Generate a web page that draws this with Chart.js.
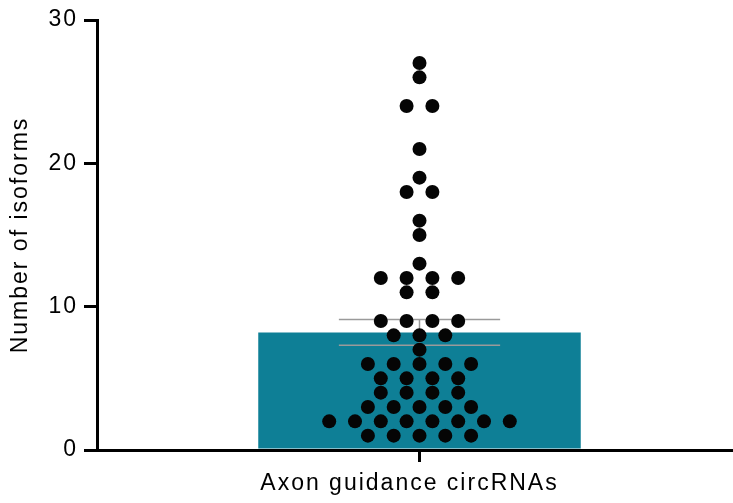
<!DOCTYPE html>
<html>
<head>
<meta charset="utf-8">
<script src="https://cdn.jsdelivr.net/npm/chart.js@4"></script>
<style>
    html, body { margin: 0; padding: 0; background: #fff; overflow: hidden; }
    #wrap { position: absolute; left: 0; top: 0; width: 742px; height: 503px; }
    #chart { width: 742px; height: 503px; display: block; }
</style>
</head>
<body>
<div id="wrap"><canvas id="chart" width="742" height="503"></canvas></div>
<script>
// Datos
const categories = ["Axon guidance circRNAs"];
const barMean = [8.2];
const barErrLow = [7.3];
const barErrHigh = [9.1];
// Número de isoformas por circRNA (un punto cada uno)
const isoformValues = [
    1, 1, 1, 1, 1,
    2, 2, 2, 2, 2, 2, 2, 2,
    3, 3, 3, 3, 3,
    4, 4, 4, 4,
    5, 5, 5, 5,
    6, 6, 6, 6, 6,
    7,
    8, 8, 8,
    9, 9, 9, 9,
    11, 11,
    12, 12, 12, 12,
    13, 15, 16,
    18, 18,
    19, 21,
    24, 24,
    26, 27
];
const yTicks = [0, 10, 20, 30];

// Agrupar valores iguales en filas centradas (estilo scatter dot plot)
const counts = {};
isoformValues.forEach(v => { counts[v] = (counts[v] || 0) + 1; });
const seen = {};
const dotPoints = isoformValues.map(v => {
    const i = seen[v] || 0;
    seen[v] = i + 1;
    return { x: i - (counts[v] - 1) / 2, y: v };
});

// Espaciado de letras como en el original
const spacingPlugin = {
    id: "letterSpacing",
    beforeUpdate(chart) { chart.ctx.letterSpacing = "2px"; },
    beforeLayout(chart) { chart.ctx.letterSpacing = "2px"; },
    beforeDraw(chart) { chart.ctx.letterSpacing = "2px"; }
};

// Barras de error (SEM) dibujadas encima de la barra
const errorBarPlugin = {
    id: "errorBars",
    afterDatasetDraw(chart, args) {
        if (args.meta.type !== "bar") return;
        const ctx = chart.ctx;
        const yScale = chart.scales.y;
        args.meta.data.forEach((bar, i) => {
            const half = bar.width / 4;
            const yHi = yScale.getPixelForValue(barErrHigh[i]);
            const yLo = yScale.getPixelForValue(barErrLow[i]);
            ctx.save();
            ctx.strokeStyle = "#9a9a9a";
            ctx.lineWidth = 1.5;
            ctx.beginPath();
            ctx.moveTo(bar.x - half, yHi); ctx.lineTo(bar.x + half, yHi);
            ctx.moveTo(bar.x - half, yLo); ctx.lineTo(bar.x + half, yLo);
            ctx.moveTo(bar.x, yHi); ctx.lineTo(bar.x, yLo);
            ctx.stroke();
            ctx.restore();
        });
    }
};

const font = { family: "'Liberation Sans', Arial, sans-serif", size: 23 };

new Chart(document.getElementById("chart"), {
    type: "bar",
    data: {
        labels: categories,
        datasets: [
            {
                type: "bar",
                data: barMean,
                backgroundColor: "#0e7f96",
                barPercentage: 0.5,
                categoryPercentage: 1,
                grouped: false,
                order: 2
            },
            {
                type: "scatter",
                data: dotPoints,
                xAxisID: "x2",
                pointRadius: 7,
                pointBackgroundColor: "#050505",
                pointBorderWidth: 0,
                clip: false,
                order: 1
            }
        ]
    },
    options: {
        responsive: false,
        animation: false,
        layout: { autoPadding: false, padding: { top: 20, right: 0, bottom: 0, left: 0 } },
        plugins: {
            legend: { display: false },
            tooltip: { enabled: false }
        },
        scales: {
            x: {
                position: "bottom",
                border: { display: true, color: "#000", width: 3 },
                grid: {
                    display: true, drawOnChartArea: false, offset: false,
                    color: "#000", lineWidth: 3, tickLength: 12
                },
                ticks: { color: "#000", font: font, padding: 8, labelOffset: -10 },
                afterFit(scale) { scale.height = 53; }
            },
            x2: {
                type: "linear",
                display: false,
                offset: false,
                bounds: "data",
                min: -12.5,
                max: 12.5
            },
            y: {
                min: 0,
                max: 30,
                afterBuildTicks(scale) { scale.ticks = yTicks.map(v => ({ value: v })); },
                border: { display: true, color: "#000", width: 3 },
                grid: {
                    display: true, drawOnChartArea: false,
                    color: "#000", lineWidth: 3, tickLength: 13
                },
                ticks: { color: "#000", font: font, padding: 6 },
                title: {
                    display: true,
                    text: "Number of isoforms",
                    color: "#000",
                    font: font,
                    padding: { top: 7, bottom: 6 }
                },
                afterFit(scale) { scale.width = 97; }
            }
        }
    },
    plugins: [spacingPlugin, errorBarPlugin]
});
</script>
</body>
</html>
